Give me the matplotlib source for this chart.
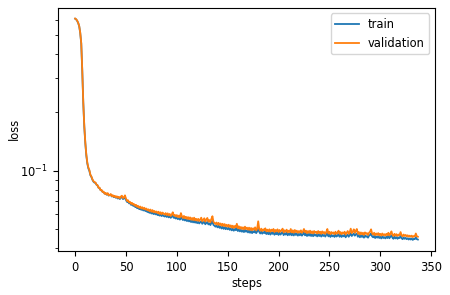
import numpy as np
import matplotlib
matplotlib.use("Agg")
import matplotlib.pyplot as plt

train = [
    0.607, 0.602, 0.592, 0.577, 0.555, 0.513, 0.452, 0.328, 0.224, 0.169,
    0.139, 0.120, 0.109, 0.103, 0.100, 0.0950, 0.0930, 0.0900, 0.0880, 0.0870,
    0.0866, 0.0850, 0.0840, 0.0820, 0.0814, 0.0797, 0.0792, 0.0780, 0.0776, 0.0764,
    0.0766, 0.0754, 0.0762, 0.0746, 0.0750, 0.0754, 0.0738, 0.0745, 0.0732, 0.0738,
    0.0727, 0.0734, 0.0720, 0.0729, 0.0716, 0.0730, 0.0734, 0.0716, 0.0720, 0.0735,
    0.0708, 0.0692, 0.0698, 0.0680, 0.0684, 0.0668, 0.0675, 0.0661, 0.0664, 0.0652,
    0.0656, 0.0642, 0.0649, 0.0635, 0.0643, 0.0630, 0.0638, 0.0625, 0.0634, 0.0621,
    0.0627, 0.0614, 0.0620, 0.0608, 0.0616, 0.0603, 0.0612, 0.0599, 0.0607, 0.0597,
    0.0603, 0.0592, 0.0600, 0.0588, 0.0597, 0.0585, 0.0594, 0.0586, 0.0582, 0.0590,
    0.0579, 0.0588, 0.0576, 0.0585, 0.0573, 0.0581, 0.0589, 0.0573, 0.0578, 0.0568,
    0.0575, 0.0564, 0.0572, 0.0561, 0.0578, 0.0567, 0.0558, 0.0567, 0.0555, 0.0563,
    0.0551, 0.0560, 0.0549, 0.0557, 0.0545, 0.0554, 0.0543, 0.0554, 0.0541, 0.0549,
    0.0538, 0.0547, 0.0536, 0.0544, 0.0550, 0.0534, 0.0541, 0.0548, 0.0531, 0.0540,
    0.0546, 0.0530, 0.0537, 0.0526, 0.0540, 0.0552, 0.0527, 0.0522, 0.0516, 0.0523,
    0.0512, 0.0521, 0.0509, 0.0517, 0.0505, 0.0515, 0.0503, 0.0513, 0.0501, 0.0509,
    0.0500, 0.0509, 0.0497, 0.0506, 0.0494, 0.0504, 0.0492, 0.0502, 0.0495, 0.0510,
    0.0490, 0.0500, 0.0488, 0.0497, 0.0486, 0.0495, 0.0484, 0.0497, 0.0486, 0.0493,
    0.0482, 0.0493, 0.0480, 0.0491, 0.0478, 0.0489, 0.0482, 0.0493, 0.0478, 0.0487,
    0.0510, 0.0486, 0.0476, 0.0487, 0.0475, 0.0484, 0.0478, 0.0489, 0.0473, 0.0482,
    0.0472, 0.0484, 0.0470, 0.0482, 0.0474, 0.0485, 0.0469, 0.0480, 0.0472, 0.0483,
    0.0468, 0.0480, 0.0470, 0.0478, 0.0484, 0.0467, 0.0478, 0.0470, 0.0481, 0.0466,
    0.0476, 0.0468, 0.0482, 0.0466, 0.0477, 0.0465, 0.0479, 0.0468, 0.0476, 0.0464,
    0.0474, 0.0466, 0.0477, 0.0464, 0.0472, 0.0482, 0.0466, 0.0475, 0.0462, 0.0474,
    0.0464, 0.0475, 0.0462, 0.0472, 0.0461, 0.0473, 0.0464, 0.0470, 0.0460, 0.0472,
    0.0462, 0.0470, 0.0459, 0.0471, 0.0462, 0.0468, 0.0459, 0.0470, 0.0480, 0.0460,
    0.0469, 0.0457, 0.0468, 0.0460, 0.0466, 0.0457, 0.0469, 0.0459, 0.0464, 0.0472,
    0.0458, 0.0468, 0.0457, 0.0466, 0.0460, 0.0469, 0.0455, 0.0464, 0.0470, 0.0458,
    0.0467, 0.0478, 0.0462, 0.0469, 0.0476, 0.0464, 0.0472, 0.0476, 0.0458, 0.0467,
    0.0455, 0.0466, 0.0457, 0.0464, 0.0453, 0.0465, 0.0458, 0.0462, 0.0453, 0.0464,
    0.0468, 0.0476, 0.0460, 0.0455, 0.0463, 0.0451, 0.0460, 0.0453, 0.0461, 0.0451,
    0.0458, 0.0449, 0.0460, 0.0451, 0.0456, 0.0449, 0.0458, 0.0451, 0.0462, 0.0450,
    0.0458, 0.0466, 0.0453, 0.0447, 0.0458, 0.0449, 0.0456, 0.0447, 0.0454, 0.0451,
    0.0462, 0.0450, 0.0445, 0.0454, 0.0447, 0.0452, 0.0445, 0.0450, 0.0443, 0.0449,
    0.0443, 0.0449, 0.0441, 0.0447, 0.0445, 0.0456, 0.0445, 0.0443,
]

validation = [
    0.608, 0.603, 0.593, 0.578, 0.556, 0.515, 0.455, 0.330, 0.225, 0.170,
    0.140, 0.121, 0.110, 0.104, 0.101, 0.0955, 0.0935, 0.0905, 0.0885, 0.0875,
    0.0872, 0.0848, 0.0845, 0.0818, 0.0820, 0.0795, 0.0798, 0.0778, 0.0782, 0.0762,
    0.0770, 0.0755, 0.0768, 0.0748, 0.0752, 0.0760, 0.0741, 0.0750, 0.0735, 0.0744,
    0.0731, 0.0740, 0.0726, 0.0735, 0.0722, 0.0738, 0.0745, 0.0724, 0.0730, 0.0748,
    0.0718, 0.0700, 0.0706, 0.0688, 0.0692, 0.0676, 0.0684, 0.0670, 0.0674, 0.0660,
    0.0668, 0.0652, 0.0660, 0.0645, 0.0655, 0.0640, 0.0650, 0.0636, 0.0646, 0.0632,
    0.0640, 0.0626, 0.0634, 0.0620, 0.0632, 0.0616, 0.0628, 0.0612, 0.0622, 0.0610,
    0.0618, 0.0606, 0.0616, 0.0600, 0.0612, 0.0598, 0.0610, 0.0602, 0.0596, 0.0606,
    0.0592, 0.0604, 0.0590, 0.0600, 0.0586, 0.0596, 0.0612, 0.0588, 0.0594, 0.0582,
    0.0592, 0.0578, 0.0588, 0.0576, 0.0606, 0.0584, 0.0572, 0.0586, 0.0570, 0.0580,
    0.0566, 0.0578, 0.0564, 0.0576, 0.0560, 0.0572, 0.0558, 0.0574, 0.0556, 0.0566,
    0.0554, 0.0566, 0.0552, 0.0562, 0.0574, 0.0550, 0.0560, 0.0570, 0.0548, 0.0562,
    0.0572, 0.0548, 0.0558, 0.0544, 0.0566, 0.0584, 0.0546, 0.0540, 0.0532, 0.0542,
    0.0528, 0.0540, 0.0526, 0.0536, 0.0522, 0.0534, 0.0520, 0.0532, 0.0518, 0.0528,
    0.0516, 0.0528, 0.0514, 0.0524, 0.0510, 0.0522, 0.0508, 0.0520, 0.0512, 0.0534,
    0.0506, 0.0518, 0.0504, 0.0514, 0.0502, 0.0512, 0.0500, 0.0516, 0.0502, 0.0510,
    0.0498, 0.0510, 0.0496, 0.0508, 0.0494, 0.0506, 0.0498, 0.0512, 0.0494, 0.0504,
    0.0550, 0.0502, 0.0492, 0.0504, 0.0490, 0.0500, 0.0494, 0.0506, 0.0488, 0.0498,
    0.0488, 0.0500, 0.0486, 0.0498, 0.0490, 0.0502, 0.0484, 0.0496, 0.0488, 0.0500,
    0.0484, 0.0496, 0.0486, 0.0494, 0.0504, 0.0482, 0.0494, 0.0486, 0.0498, 0.0482,
    0.0492, 0.0484, 0.0502, 0.0482, 0.0494, 0.0480, 0.0496, 0.0484, 0.0492, 0.0480,
    0.0490, 0.0482, 0.0494, 0.0480, 0.0488, 0.0502, 0.0482, 0.0492, 0.0478, 0.0490,
    0.0480, 0.0492, 0.0478, 0.0488, 0.0476, 0.0490, 0.0480, 0.0486, 0.0476, 0.0490,
    0.0478, 0.0486, 0.0474, 0.0488, 0.0478, 0.0484, 0.0474, 0.0486, 0.0502, 0.0476,
    0.0486, 0.0472, 0.0484, 0.0476, 0.0482, 0.0472, 0.0486, 0.0474, 0.0480, 0.0492,
    0.0474, 0.0484, 0.0472, 0.0482, 0.0476, 0.0486, 0.0470, 0.0480, 0.0490, 0.0474,
    0.0484, 0.0504, 0.0478, 0.0486, 0.0500, 0.0480, 0.0492, 0.0502, 0.0474, 0.0484,
    0.0470, 0.0482, 0.0472, 0.0480, 0.0468, 0.0482, 0.0474, 0.0478, 0.0468, 0.0480,
    0.0486, 0.0500, 0.0476, 0.0470, 0.0480, 0.0466, 0.0476, 0.0468, 0.0478, 0.0466,
    0.0474, 0.0464, 0.0476, 0.0466, 0.0472, 0.0464, 0.0474, 0.0466, 0.0480, 0.0466,
    0.0474, 0.0488, 0.0468, 0.0462, 0.0474, 0.0464, 0.0472, 0.0462, 0.0470, 0.0466,
    0.0484, 0.0466, 0.0460, 0.0470, 0.0462, 0.0468, 0.0460, 0.0466, 0.0458, 0.0464,
    0.0458, 0.0464, 0.0456, 0.0462, 0.0460, 0.0476, 0.0460, 0.0458,
]

train_steps = np.arange(len(train))
val_steps = np.arange(len(validation))

plt.rcParams["font.size"] = 8.3
fig = plt.figure(figsize=(4.5, 2.95), dpi=100)
ax = fig.add_subplot(111)
fig.subplots_adjust(left=58 / 450, right=435 / 450, top=1 - 7.5 / 295, bottom=1 - 251 / 295)

ax.plot(train_steps, train, label="train", linewidth=1.3)
ax.plot(val_steps, validation, label="validation", linewidth=1.3)
ax.set_yscale("log")
ax.set_xlabel("steps", labelpad=2.5)
ax.set_ylabel("loss", labelpad=0)
ax.legend(loc="upper right")

fig.savefig("out.png", dpi=100)
